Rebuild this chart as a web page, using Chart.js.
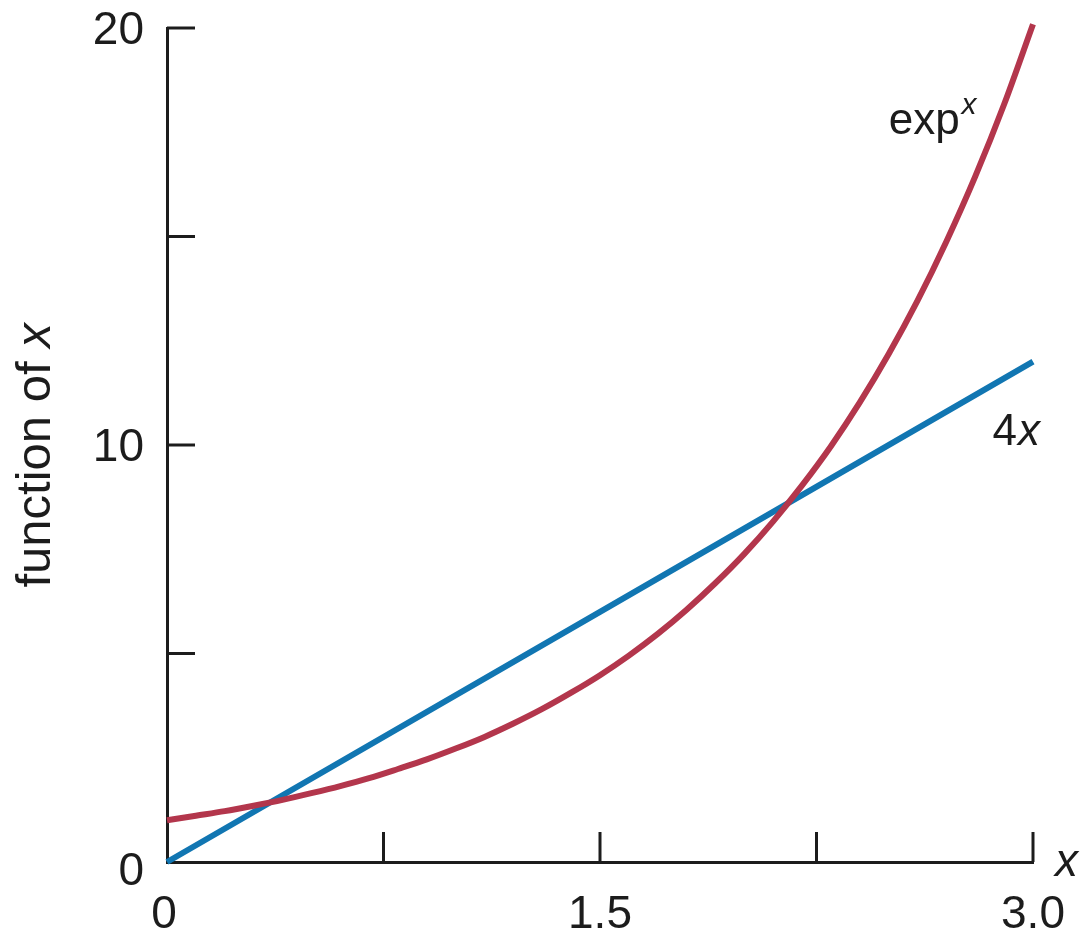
<!DOCTYPE html>
<html>
<head>
<meta charset="utf-8">
<script src="https://cdn.jsdelivr.net/npm/chart.js@4.4.1/dist/chart.umd.min.js"></script>
<style>
  html, body { margin: 0; padding: 0; background: #ffffff; }
  #wrap { width: 1081px; height: 931px; }
</style>
</head>
<body>
<div id="wrap"><canvas id="chart" width="1081" height="931"></canvas></div>
<script>
// x positions sampled along the horizontal axis
const xValues = [0, 0.1, 0.2, 0.3, 0.4, 0.5, 0.6, 0.7, 0.8, 0.9, 1.0,
  1.1, 1.2, 1.3, 1.4, 1.5, 1.6, 1.7, 1.8, 1.9, 2.0,
  2.1, 2.2, 2.3, 2.4, 2.5, 2.6, 2.7, 2.8, 2.9, 3.0];
// exponential curve
const expValues = [1.00, 1.11, 1.22, 1.35, 1.49, 1.65, 1.82, 2.01, 2.23, 2.46, 2.72,
  3.00, 3.32, 3.67, 4.06, 4.48, 4.95, 5.47, 6.05, 6.69, 7.39,
  8.17, 9.03, 9.97, 11.02, 12.18, 13.46, 14.88, 16.44, 18.17, 20.09];
// straight line 4x
const lineX = [0, 1.5, 3.0];
const lineValues = [0, 6, 12];

// axis ticks and labels
const xTickValues = [0.75, 1.5, 2.25, 3.0];
const yTickValues = [5, 10, 15, 20];
const xTickLabels = [{ v: 0, t: '0' }, { v: 1.5, t: '1.5' }, { v: 3.0, t: '3.0' }];
const yTickLabels = [{ v: 0, t: '0' }, { v: 10, t: '10' }, { v: 20, t: '20' }];

const RED = '#b3364c';
const BLUE = '#1176b2';
const INK = '#1c1c1c';
const FONT = '"Liberation Sans", Arial, sans-serif';

const expData = xValues.map((x, i) => ({ x: x, y: expValues[i] }));
const lineData = lineX.map((x, i) => ({ x: x, y: lineValues[i] }));

// Draws inward tick marks, numeric labels and the curve/axis titles
const decorations = {
  id: 'decorations',
  beforeDatasetsDraw(chart) {
    const { ctx, scales: { x, y } } = chart;
    ctx.save();
    ctx.strokeStyle = INK;
    ctx.lineWidth = 3;
    ctx.lineCap = 'butt';
    const x0 = x.getPixelForValue(0);
    const y0 = y.getPixelForValue(0);
    yTickValues.forEach(v => {
      const py = y.getPixelForValue(v);
      ctx.beginPath(); ctx.moveTo(x0, py); ctx.lineTo(x0 + 28, py); ctx.stroke();
    });
    xTickValues.forEach(v => {
      const px = x.getPixelForValue(v);
      ctx.beginPath(); ctx.moveTo(px, y0); ctx.lineTo(px, y0 - 30); ctx.stroke();
    });
    ctx.restore();
  },
  afterDatasetsDraw(chart) {
    const { ctx, scales: { x, y } } = chart;
    const x0 = x.getPixelForValue(0);
    const y0 = y.getPixelForValue(0);
    ctx.save();
    ctx.fillStyle = INK;
    ctx.font = '46px ' + FONT;

    // y tick labels
    ctx.textAlign = 'right';
    ctx.textBaseline = 'middle';
    yTickLabels.forEach(l => {
      const off = l.v === 0 ? 10 : 3;
      ctx.fillText(l.t, x0 - 23, y.getPixelForValue(l.v) + off);
    });

    // x tick labels
    ctx.textAlign = 'center';
    ctx.textBaseline = 'top';
    xTickLabels.forEach(l => {
      const off = l.v === 0 ? -3 : 0;
      ctx.fillText(l.t, x.getPixelForValue(l.v) + off, y0 + 30);
    });

    // x axis title at the end of the axis
    ctx.font = 'italic 46px ' + FONT;
    ctx.textAlign = 'left';
    ctx.textBaseline = 'middle';
    ctx.fillText('x', x.getPixelForValue(3.0) + 22, y0 + 1);

    // y axis title, rotated
    ctx.save();
    ctx.translate(50, y.getPixelForValue(9.75));
    ctx.rotate(-Math.PI / 2);
    ctx.textBaseline = 'alphabetic';
    const part1 = 'function of ';
    ctx.font = 'italic 49px ' + FONT;
    const wx = ctx.measureText('x').width;
    ctx.font = '49px ' + FONT;
    const w1 = ctx.measureText(part1).width;
    const start = -(w1 + wx) / 2;
    ctx.textAlign = 'left';
    ctx.fillText(part1, start, 0);
    ctx.font = 'italic 49px ' + FONT;
    ctx.fillText('x', start + w1, 0);
    ctx.restore();

    // curve labels
    ctx.textAlign = 'left';
    ctx.textBaseline = 'alphabetic';
    ctx.font = '44px ' + FONT;
    const ex = x.getPixelForValue(2.5);
    const ey = y.getPixelForValue(17.45);
    ctx.fillText('exp', ex, ey);
    const we = ctx.measureText('exp').width;
    ctx.font = 'italic 30px ' + FONT;
    ctx.fillText('x', ex + we + 2, ey - 20);

    ctx.font = '44px ' + FONT;
    const lx = x.getPixelForValue(2.86);
    const ly = y.getPixelForValue(10.0);
    ctx.fillText('4', lx, ly);
    const w4 = ctx.measureText('4').width;
    ctx.font = 'italic 44px ' + FONT;
    ctx.fillText('x', lx + w4 + 1, ly);
    ctx.restore();
  }
};

new Chart(document.getElementById('chart'), {
  type: 'scatter',
  data: {
    datasets: [
      {
        label: '4x',
        data: lineData,
        showLine: true,
        borderColor: BLUE,
        borderWidth: 6,
        pointRadius: 0,
        clip: false,
        order: 2
      },
      {
        label: 'exp',
        data: expData,
        showLine: true,
        borderColor: RED,
        borderWidth: 6,
        pointRadius: 0,
        cubicInterpolationMode: 'monotone',
        clip: false,
        order: 1
      }
    ]
  },
  options: {
    responsive: false,
    animation: false,
    events: [],
    layout: { padding: { left: 0, top: 28, right: 48, bottom: 0 } },
    plugins: { legend: { display: false }, tooltip: { enabled: false } },
    scales: {
      x: {
        type: 'linear',
        min: 0,
        max: 3,
        grid: { display: false, drawTicks: false },
        ticks: { display: false },
        border: { display: true, color: INK, width: 3 },
        afterFit(scale) { scale.height = 69; }
      },
      y: {
        type: 'linear',
        min: 0,
        max: 20,
        grid: { display: false, drawTicks: false },
        ticks: { display: false },
        border: { display: true, color: INK, width: 3 },
        afterFit(scale) { scale.width = 167; }
      }
    }
  },
  plugins: [decorations]
});
</script>
</body>
</html>
